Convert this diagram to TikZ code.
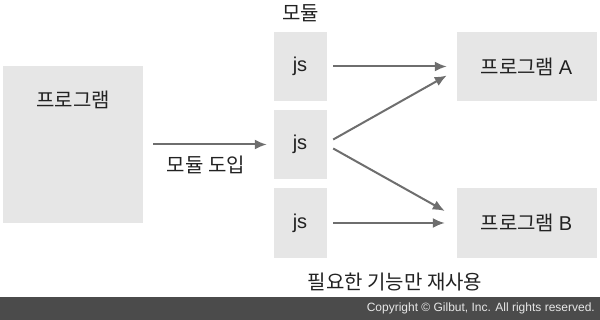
\documentclass[tikz,border=0pt]{standalone}
\usepackage{fontspec}
\setmainfont{Liberation Sans}
\newfontfamily\kr{Noto Sans CJK KR}
\usetikzlibrary{arrows.meta}
\definecolor{boxgray}{HTML}{E6E6E6}
\definecolor{arrgray}{HTML}{6E6E6E}
\definecolor{txt}{HTML}{222222}
\definecolor{bar}{HTML}{4B4B4B}
\definecolor{bartxt}{HTML}{E8E8E8}
\tikzset{
  box/.style={fill=boxgray, draw=none, inner sep=0pt},
  lbl/.style={text=txt, inner sep=0pt, font=\fontsize{20}{22}\selectfont},
  conn/.style={draw=arrgray, line width=2pt, -{Latex[length=12pt,width=10pt]}},
}
\begin{document}
\begin{tikzpicture}[x=1pt,y=-1pt]
\useasboundingbox (0,0) rectangle (600,320);
% footer
\node[fill=bar, minimum width=600pt, minimum height=23pt, inner sep=0pt, anchor=north west] (foot) at (0,297) {};
\node[anchor=east, text=bartxt, inner sep=0pt, font=\fontsize{12}{14}\selectfont] (copy) at (595,308.5) {Copyright © Gilbut, Inc. All rights reserved.};
% big program box
\node[box, minimum width=140pt, minimum height=157pt] (prog) at (73,144.5) {};
\node[lbl] (progt) at (73,100) {\kr 프로그램};
% js boxes
\node[box, minimum width=53pt, minimum height=69pt] (js1) at (300.5,66.5) {};
\node[box, minimum width=53pt, minimum height=69pt] (js2) at (300.5,144.5) {};
\node[box, minimum width=53pt, minimum height=70pt] (js3) at (300.5,223) {};
\node[lbl] (js1t) at (300,66.5) {js};
\node[lbl] (js2t) at (300,144.5) {js};
\node[lbl] (js3t) at (300,223) {js};
\node[lbl] (modt) at (300.5,13) {\kr 모듈};
% program A/B
\node[box, minimum width=140pt, minimum height=69pt] (A) at (527,66.5) {};
\node[box, minimum width=140pt, minimum height=70pt] (B) at (527,223) {};
\node[lbl] (At) at (526.5,66.5) {\kr 프로그램 \rmfamily A};
\node[lbl] (Bt) at (526.5,223) {\kr 프로그램 \rmfamily B};
% labels
\node[lbl] (intro) at (206,165) {\kr 모듈 도입};
\node[lbl] (reuse) at (395,282) {\kr 필요한 기능만 재사용};
% connectors
\coordinate (p0) at ([xshift=10pt]prog.east);
\coordinate (p1) at ([xshift=-7pt]js2.west);
\draw[conn] (p0) -- (p1);
\coordinate (a0) at ([xshift=6pt]js1.east);
\coordinate (a1) at ([xshift=-10pt]A.west);
\draw[conn] (a0) -- (a1);
\coordinate (b0) at ([xshift=6pt,yshift=5pt]js2.east);
\coordinate (b1) at ([xshift=-10pt,yshift=-9pt]A.west);
\draw[conn] (b0) -- (b1);
\coordinate (c0) at ([xshift=6pt,yshift=-4pt]js2.east);
\coordinate (c1) at ([xshift=-12pt,yshift=12pt]B.west);
\draw[conn] (c0) -- (c1);
\coordinate (d0) at ([xshift=6pt]js3.east);
\coordinate (d1) at ([xshift=-12pt]B.west);
\draw[conn] (d0) -- (d1);
\end{tikzpicture}
\end{document}
